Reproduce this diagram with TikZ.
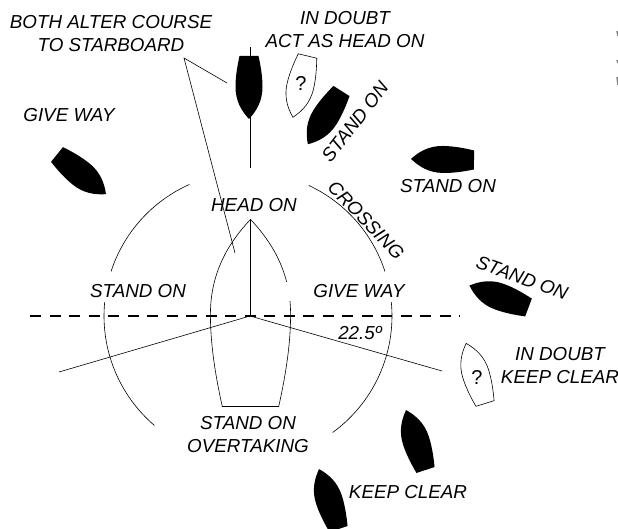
\documentclass[tikz,border=0pt]{standalone}
\usepackage{fontspec}
\setmainfont{Liberation Sans}
\tikzset{
    label/.style={font=\fontsize{18.8}{23}\selectfont\itshape, align=center, inner sep=0pt},
    query/.style={font=\fontsize{20}{23}\selectfont, inner sep=0pt},
    thin line/.style={line width=0.6pt},
    hull/.pic={
        \path[pic actions] (-9.5,0) -- (9.5,0)
            .. controls (11.5,9) and (13.5,20) .. (13.5,31)
            .. controls (13.5,45) and (7.5,55) .. (0,63)
            .. controls (-7.5,55) and (-13.5,45) .. (-13.5,31)
            .. controls (-13.5,20) and (-11.5,9) .. (-9.5,0) -- cycle;
    }
}
\begin{document}
\begin{tikzpicture}[x=1pt,y=-1pt]
    \useasboundingbox (0,0) rectangle (618,529);
    \clip (0,0) rectangle (618,529);

    \coordinate (centre) at (250,316);
    \coordinate (bowpoint) at (250,220);
    \coordinate (masttop) at (250,47);
    \coordinate (mastfoot) at (250,168);
    \coordinate (portend) at (59,372);
    \coordinate (stbdend) at (442,371);
    \coordinate (dashleft) at (30,316);
    \coordinate (dashright) at (460,316);
    \coordinate (leader) at (184,58);
    \coordinate (leaderA) at (227,83);
    \coordinate (leaderB) at (235,253);

    % black boats
    \pic[fill=black] at (249,56) {hull};
    \pic[fill=black, rotate=-32.3] at (341.5,91) {hull};
    \pic[fill=black, rotate=-91] at (474,160) {hull};
    \pic[fill=black, rotate=-110.4] at (528.5,307.5) {hull};
    \pic[fill=black, rotate=-162] at (425.5,470) {hull};
    \pic[fill=black, rotate=-162] at (338.5,529) {hull};
    \pic[fill=black, rotate=51] at (57,154.5) {hull};

    % white boats
    \pic[draw, thin line, rotate=-13.4] at (307.5,56) {hull};
    \pic[draw, thin line, rotate=-162.6] at (485,403.5) {hull};
    \pic[draw, thin line, rotate=180, scale=2.97] at (250.5,406.5) {hull};
    \fill[white] (280,282) rectangle (294,301);

    % sectors
    \draw[thin line] (centre) -- (bowpoint);
    \draw[thin line] (masttop) -- (mastfoot);
    \draw[thin line] (centre) -- (portend);
    \draw[thin line] (centre) -- (stbdend);
    \draw[line width=1.2pt, dash pattern=on 11pt off 8.5pt] (dashleft) -- (dashright);
    \draw[thin line] (leaderA) -- (leader) -- (leaderB);

    % arcs
    \coordinate (arccentre) at (248,316);
    \foreach \from/\to in {246/198, 185.5/130.5, -65/-18, -5.5/54}
        \draw[thin line] (arccentre) ++(\from:144) arc (\from:\to:144);

    % edge of the picture
    \draw[line width=1.5pt, gray] (617,31) -- (618,36);
    \draw[line width=1.5pt, gray] (617,60) -- (618,63);
    \draw[line width=1.5pt, gray] (617,77) -- (618,85);

    % labels
    \node[label] (both) at (111,34) {BOTH ALTER COURSE\\TO STARBOARD};
    \node[label] (doubtA) at (345,30) {IN DOUBT\\ACT AS HEAD ON};
    \node[label] (giveA) at (69,115) {GIVE WAY};
    \node[label, rotate=52] (standA) at (355,122) {STAND ON};
    \node[label] (standB) at (448,186) {STAND ON};
    \node[label] (head) at (254,205) {HEAD ON};
    \node[label] (standC) at (138,291) {STAND ON};
    \node[label] (giveB) at (359,291) {GIVE WAY};
    \node[label] (angle) at (360,333) {22.5º};
    \node[label, rotate=-20] (standD) at (522,278) {STAND ON};
    \node[label] (doubtB) at (560,366) {IN DOUBT\\KEEP CLEAR};
    \node[label] (keep) at (408,492) {KEEP CLEAR};
    \node[label] (over) at (248,435) {STAND ON\\OVERTAKING};
    \node[label, rotate=-46] (crossing) at (366,220) {CROSSING};
    \node[query] (queryA) at (301,84) {?};
    \node[query] (queryB) at (477,378) {?};
\end{tikzpicture}
\end{document}
